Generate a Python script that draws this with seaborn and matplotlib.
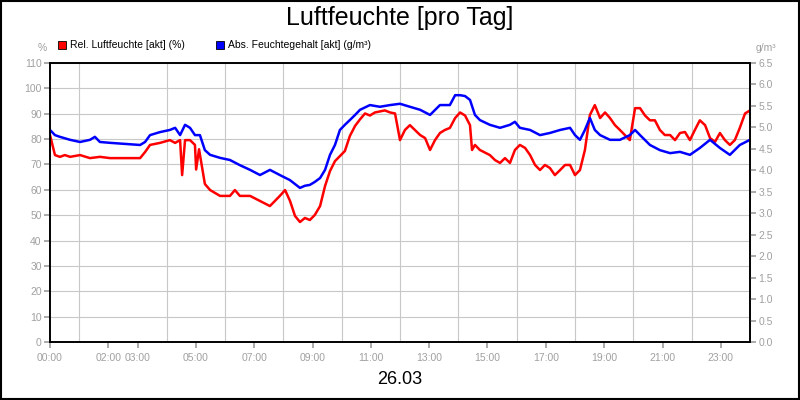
import matplotlib
matplotlib.use("Agg")
import matplotlib.pyplot as plt
import seaborn as sns
import pandas as pd
from matplotlib.patches import Rectangle

sns.set_theme(style="white")
plt.rcParams['font.family'] = ['Liberation Sans', 'DejaVu Sans']
plt.rcParams['text.color'] = 'black'

rel_hours = [0.00,0.17,0.34,0.51,0.69,1.03,1.37,1.71,2.06,3.09,3.26,3.43,3.77,4.11,4.29,4.46,4.53,4.63,4.80,4.97,5.01,5.11,
 5.31,5.49,5.83,6.17,6.34,6.51,6.86,7.20,7.54,7.71,7.88,8.06,8.23,8.40,8.57,8.74,8.91,9.08,9.26,9.43,9.60,9.77,9.94,
 10.11,10.28,10.46,10.63,10.80,10.97,11.14,11.31,11.48,11.66,11.83,12.00,12.17,12.34,12.51,12.69,12.86,13.03,13.20,
 13.37,13.54,13.71,13.89,14.06,14.23,14.40,14.47,14.57,14.74,15.08,15.26,15.43,15.60,15.77,15.94,16.11,16.29,16.46,
 16.63,16.80,16.97,17.14,17.31,17.49,17.66,17.83,18.00,18.17,18.34,18.51,18.68,18.86,19.03,19.20,19.37,19.54,19.71,
 19.88,20.06,20.23,20.40,20.57,20.74,20.91,21.08,21.26,21.43,21.60,21.77,21.94,22.11,22.28,22.46,22.63,22.80,22.97,
 23.14,23.31,23.48,23.65,23.83,24.00]
rel_values = [81.6,73.7,73.0,73.7,73.0,73.7,72.5,73.0,72.5,72.5,74.9,77.7,78.5,79.6,78.5,79.6,65.8,79.6,79.6,77.7,68.0,76.0,
 62.3,59.9,57.6,57.6,59.9,57.6,57.6,55.6,53.6,55.6,57.6,59.9,55.6,49.7,47.3,48.9,48.1,50.1,53.6,61.5,67.4,71.3,73.3,
 75.3,81.2,85.2,87.8,90.1,89.3,90.5,90.9,91.3,90.5,90.1,79.6,83.6,85.5,83.6,81.6,80.4,75.7,79.6,
 82.4,83.6,84.4,88.3,90.5,89.3,85.5,75.7,77.7,75.7,73.7,71.7,70.6,72.5,70.6,75.7,77.7,76.5,73.7,
 69.8,67.8,69.8,68.6,65.8,67.8,69.8,69.8,65.8,67.8,75.7,89.5,93.4,88.3,90.5,88.3,85.5,83.6,81.6,
 79.6,92.2,92.2,89.3,87.4,87.4,83.6,81.6,81.6,79.6,82.4,82.8,79.6,83.6,87.4,85.5,80.4,78.9,82.4,
 79.6,77.7,79.6,84.4,90.1,91.3]

abs_hours = [0.00,0.17,0.34,0.69,1.03,1.37,1.54,1.71,2.06,3.09,3.26,3.43,3.77,4.11,4.29,4.46,4.63,4.80,4.97,5.14,5.31,5.49,
 5.83,6.17,6.51,6.86,7.20,7.54,7.88,8.23,8.57,8.74,8.91,9.08,9.26,9.43,9.60,9.77,9.94,10.11,10.28,10.46,10.63,10.97,
 11.31,11.66,12.00,12.34,12.69,13.03,13.37,13.71,13.89,14.06,14.23,14.40,14.57,14.74,15.08,15.43,15.77,15.94,16.11,
 16.46,16.80,17.14,17.49,17.83,18.00,18.17,18.34,18.51,18.68,18.86,19.20,19.54,19.88,20.06,20.23,20.57,20.91,21.26,
 21.60,21.94,22.28,22.63,22.97,23.31,23.65,24.00]
abs_values = [4.94,4.82,4.78,4.71,4.66,4.71,4.78,4.66,4.64,4.59,4.66,4.82,4.89,4.94,4.99,4.82,5.06,4.99,4.82,4.82,4.47,4.36,
 4.29,4.24,4.12,4.01,3.89,4.01,3.89,3.77,3.59,3.64,3.66,3.73,3.82,4.01,4.36,4.59,4.94,5.06,5.17,5.29,5.41,5.52,
 5.48,5.52,5.55,5.48,5.41,5.29,5.52,5.52,5.75,5.75,5.73,5.64,5.29,5.17,5.06,4.99,5.06,5.13,4.99,
 4.94,4.82,4.87,4.94,4.99,4.82,4.71,4.94,5.22,4.94,4.82,4.71,4.71,4.82,4.94,4.82,4.59,4.47,4.40,
 4.43,4.36,4.52,4.71,4.52,4.36,4.59,4.71]

tick_hours = [0, 2, 3, 5, 7, 9, 11, 13, 15, 17, 19, 21, 23]
tick_labels = ["00:00", "02:00", "03:00", "05:00", "07:00", "09:00", "11:00", "13:00",
               "15:00", "17:00", "19:00", "21:00", "23:00"]

df_rel = pd.DataFrame({"h": rel_hours, "v": rel_values})
df_abs = pd.DataFrame({"h": abs_hours, "v": abs_values})

fig = plt.figure(figsize=(8, 4), dpi=100)
fig.patches.append(Rectangle((0.0015, 0.002), 0.997, 0.996, transform=fig.transFigure,
                             fill=False, edgecolor="black", linewidth=1.5))
ax = fig.add_axes([0.0625, 0.145, 0.875, 0.6975])
ax2 = ax.twinx()

sns.lineplot(data=df_rel, x="h", y="v", ax=ax, color="#ff0000", linewidth=1.8)
sns.lineplot(data=df_abs, x="h", y="v", ax=ax2, color="#0000ff", linewidth=1.8)
ax.set_xlabel(""); ax.set_ylabel(""); ax2.set_ylabel("")

grey = "#a0a0a0"
ax.set_xlim(0, 24)
ax.set_ylim(0, 110)
ax2.set_ylim(0, 6.5)
ax.set_xticks(range(0, 25), minor=True)
ax.set_xticks(tick_hours)
ax.set_xticklabels(tick_labels)
ax.tick_params(axis="x", which="major", length=4, color=grey, pad=4, labelsize=7.5, labelcolor=grey)
ax.tick_params(axis="x", which="minor", length=4, color=grey)
ax.set_yticks(range(0, 111, 10))
ax2.set_yticks([i * 0.5 for i in range(14)])
ax2.set_yticklabels([f"{i*0.5:.1f}" for i in range(14)])
ax.tick_params(axis="y", length=4, color=grey, labelsize=7.5, labelcolor=grey, pad=2, left=True)
ax2.tick_params(axis="y", length=4, color=grey, labelsize=7.5, labelcolor=grey, pad=2, right=True)
ax.tick_params(axis="x", bottom=True)
ax.xaxis.grid(True, which="minor", color="#c8c8c8", linewidth=0.8)
ax.yaxis.grid(True, which="major", color="#c8c8c8", linewidth=0.8)
ax.set_axisbelow(True)
for a in (ax, ax2):
    for s in a.spines.values():
        s.set_color("black"); s.set_linewidth(1.2)

fig.text(0.5, 0.955, "Luftfeuchte [pro Tag]", ha="center", va="center", fontsize=18, color="black")
fig.text(0.5, 0.052, "26.03", ha="center", va="center", fontsize=13, color="black")
fig.text(0.053, 0.88, "%", ha="center", va="center", fontsize=7.5, color=grey)
fig.text(0.957, 0.88, "g/m³", ha="center", va="center", fontsize=7.5, color=grey)
fig.patches.append(Rectangle((0.0725, 0.877), 0.01, 0.02, transform=fig.transFigure,
                             facecolor="#ff0000", edgecolor="black", linewidth=0.6))
fig.text(0.087, 0.888, "Rel. Luftfeuchte [akt] (%)", va="center", fontsize=7.5, color="black")
fig.patches.append(Rectangle((0.27, 0.877), 0.01, 0.02, transform=fig.transFigure,
                             facecolor="#0000ff", edgecolor="black", linewidth=0.6))
fig.text(0.2845, 0.888, "Abs. Feuchtegehalt [akt] (g/m³)", va="center", fontsize=7.5, color="black")

fig.savefig("out.png", dpi=100)
